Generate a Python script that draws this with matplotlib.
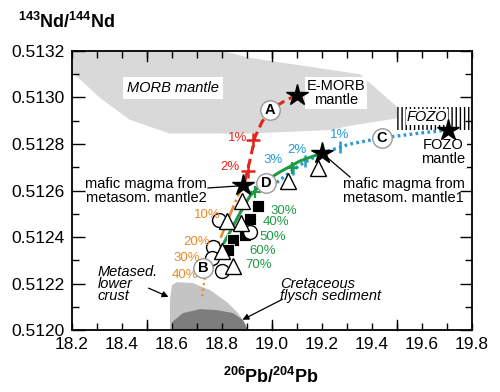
import matplotlib
matplotlib.use('Agg')
import matplotlib.pyplot as plt
from matplotlib.patches import Polygon, Rectangle

plt.rcParams['font.family'] = ['Liberation Sans', 'DejaVu Sans']
plt.rcParams['mathtext.fontset'] = 'custom'
plt.rcParams['mathtext.rm'] = 'Liberation Sans'
plt.rcParams['mathtext.bf'] = 'Liberation Sans:bold'
plt.rcParams['hatch.linewidth'] = 1.0
plt.rcParams['hatch.color'] = 'black'

# ---------------- data ----------------
morb_x = [18.2, 18.804, 18.912, 19.352, 19.50, 19.50, 19.32, 19.232, 18.912, 18.59, 18.43, 18.31, 18.2]
morb_y = [0.51320, 0.51320, 0.51317, 0.51310, 0.51296, 0.51291, 0.51288, 0.51286, 0.512845, 0.512845, 0.512905, 0.51300, 0.51311]

fozo_box_x = [19.50, 19.80]
fozo_box_y = [0.51286, 0.51296]

crust_x = [18.592, 18.592, 18.60, 18.62, 18.684, 18.752, 18.82, 18.864, 18.892, 18.904]
crust_y = [0.51200, 0.51213, 0.512194, 0.512206, 0.512202, 0.512172, 0.51212, 0.512073, 0.51203, 0.51200]

flysch_x = [18.60, 18.60, 18.644, 18.712, 18.78, 18.844, 18.884, 18.904]
flysch_y = [0.51200, 0.512034, 0.512073, 0.51209, 0.512086, 0.512073, 0.512043, 0.51200]

# mixing curves
red_x = [19.10, 19.044, 18.992, 18.96, 18.932, 18.912, 18.888]
red_y = [0.513011, 0.512981, 0.512946, 0.512895, 0.512830, 0.512731, 0.512624]
red_tick_x = [18.924, 18.904]
red_tick_y = [0.512817, 0.512684]

blue_x = [19.704, 19.592, 19.44, 19.312, 19.20, 19.112, 19.052, 19.00]
blue_y = [0.512860, 0.512847, 0.512826, 0.512800, 0.512761, 0.512710, 0.512662, 0.512619]
blue_tick_x = [19.272, 19.132, 19.084]
blue_tick_y = [0.512787, 0.512727, 0.512692]

green_x = [19.20, 19.112, 19.032, 18.96, 18.912, 18.872, 18.832, 18.792, 18.76]
green_y = [0.512761, 0.512727, 0.512680, 0.512632, 0.512576, 0.512503, 0.512422, 0.512344, 0.512267]
green_tick_x = [19.08, 18.93]
green_tick_y = [0.512697, 0.512595]

orange_x = [18.884, 18.856, 18.82, 18.78, 18.752, 18.736, 18.728]
orange_y = [0.512624, 0.512559, 0.512465, 0.512357, 0.512293, 0.512250, 0.512202]
orange_tail_x = [18.728, 18.72]
orange_tail_y = [0.512202, 0.512138]

# samples
tri_x = [18.88, 18.82, 18.876, 18.80, 18.844, 19.064, 19.184]
tri_y = [0.512555, 0.512469, 0.512460, 0.512340, 0.512275, 0.512641, 0.512697]
circ_x = [18.788, 18.912, 18.764, 18.76, 18.80]
circ_y = [0.512473, 0.512421, 0.512357, 0.512310, 0.512254]
sq_x = [18.944, 18.912, 18.892, 18.844, 18.824]
sq_y = [0.512533, 0.512477, 0.512409, 0.512387, 0.512344]

# end members (stars)
star_names = ['E-MORB', 'FOZO', 'mantle1', 'mantle2']
star_x = [19.10, 19.704, 19.20, 18.884]
star_y = [0.513011, 0.512860, 0.512761, 0.512624]

# circled letters
letters = ['A', 'B', 'C', 'D']
letter_x = [18.992, 18.724, 19.44, 18.976]
letter_y = [0.512946, 0.512267, 0.512826, 0.512632]

red_labels = ['1%', '2%']
blue_labels = ['1%', '2%', '3%']
green_labels = ['30%', '40%', '50%', '60%', '70%']
orange_labels = ['10%', '20%', '30%', '40%']

xticks = [18.2, 18.4, 18.6, 18.8, 19.0, 19.2, 19.4, 19.6, 19.8]
yticks = [0.5120, 0.5122, 0.5124, 0.5126, 0.5128, 0.5130, 0.5132]

RED = '#e2261e'
BLUE = '#249ad6'
GREEN = '#1f9a45'
ORANGE = '#e8892b'

# ---------------- figure ----------------
fig = plt.figure(figsize=(5.0, 3.92), dpi=100)
ax = fig.add_axes([0.144, 0.158, 0.80, 0.712])
ax.set_xlim(18.2, 19.8)
ax.set_ylim(0.5120, 0.5132)

# regions
ax.add_patch(Polygon(list(zip(morb_x, morb_y)), closed=True, fc='#d9d9d9', ec='none', zorder=1))
ax.add_patch(Rectangle((fozo_box_x[0], fozo_box_y[0]), fozo_box_x[1] - fozo_box_x[0],
                       fozo_box_y[1] - fozo_box_y[0], fc='white', ec='black', lw=0,
                       hatch='||||', zorder=1.2))
ax.add_patch(Polygon(list(zip(crust_x, crust_y)), closed=True, fc='#c4c4c4', ec='none', zorder=1))
ax.add_patch(Polygon(list(zip(flysch_x, flysch_y)), closed=True, fc='#7d7d7d', ec='none', zorder=1.1))

# mixing curves
ax.plot(red_x, red_y, color=RED, lw=2.2, ls=(0, (3, 1.6)), zorder=3)
ax.plot(red_tick_x, red_tick_y, ls='none', marker='+', ms=10, mew=1.8, color=RED, zorder=3)
ax.plot(blue_x, blue_y, color=BLUE, lw=2.4, ls=(0, (0.8, 1.0)), zorder=3)
ax.plot(blue_tick_x, blue_tick_y, ls='none', marker='|', ms=8, mew=1.8, color=BLUE, zorder=3)
ax.plot(green_x, green_y, color=GREEN, lw=2.2, zorder=3)
ax.plot(green_tick_x, green_tick_y, ls='none', marker='+', ms=8, mew=1.6, color=GREEN, zorder=3)
ax.plot(orange_x, orange_y, color=ORANGE, lw=1.8, ls=(0, (5, 1.5, 1, 1.5)), zorder=3)
ax.plot(orange_tail_x, orange_tail_y, color=ORANGE, lw=1.6, ls=(0, (1, 1.5)), zorder=3)

# samples
ax.plot(sq_x, sq_y, ls='none', marker='s', ms=8.5, mfc='black', mec='white', mew=0.6, zorder=4)
ax.plot(circ_x, circ_y, ls='none', marker='o', ms=10, mfc='white', mec='black', mew=1.0, zorder=5)
ax.plot(tri_x, tri_y, ls='none', marker='^', ms=11, mfc='white', mec='black', mew=1.0, zorder=5)

# stars
ax.plot(star_x, star_y, ls='none', marker='*', ms=16, mfc='black', mec='black', zorder=7)

# circled letters
ax.plot(letter_x, letter_y, ls='none', marker='o', ms=14, mfc='white', mec='#999999', mew=1.0, zorder=8)
for t, x, y in zip(letters, letter_x, letter_y):
    ax.text(x, y, t, ha='center', va='center', fontsize=10.5, fontweight='bold', zorder=9)

# percentage labels
PF = 9.5
for t, x, y in zip(red_labels, [18.864, 18.832], [0.512826, 0.512701]):
    ax.text(x, y, t, color=RED, fontsize=PF, ha='center', va='center', zorder=6)
for t, x, y in zip(blue_labels, [19.272, 19.10, 19.004], [0.512839, 0.512774, 0.512731]):
    ax.text(x, y, t, color=BLUE, fontsize=PF, ha='center', va='center', zorder=6)
for t, x, y in zip(green_labels, [19.048, 19.016, 19.004, 18.964, 18.948],
                   [0.512514, 0.512463, 0.512398, 0.512342, 0.512278]):
    ax.text(x, y, t, color=GREEN, fontsize=PF, ha='center', va='center', zorder=6)
for t, x, y in zip(orange_labels, [18.74, 18.70, 18.66, 18.652],
                   [0.512495, 0.512379, 0.51231, 0.512237]):
    ax.text(x, y, t, color=ORANGE, fontsize=PF, ha='center', va='center', zorder=6)

# region labels
box = dict(fc='white', ec='none', pad=1.5)
ax.text(18.604, 0.513041, 'MORB mantle', style='italic', fontsize=10.5, ha='center', va='center',
        bbox=dict(fc='white', ec='none', pad=3), zorder=6)
ax.text(19.256, 0.513019, 'E-MORB\nmantle', fontsize=10.5, ha='center', va='center',
        linespacing=0.95, bbox=box, zorder=6)
ax.text(19.62, 0.512916, 'FOZO', style='italic', fontsize=10.5, ha='center', va='center',
        bbox=dict(fc='white', ec='none', pad=0.5), zorder=6)
ax.text(19.684, 0.512766, 'FOZO\nmantle', fontsize=10.5, ha='center', va='center',
        linespacing=0.95, bbox=box, zorder=6)
ax.text(18.74, 0.512598, 'mafic magma from\nmetasom. mantle2', fontsize=10.5, ha='right',
        va='center', linespacing=0.95, zorder=6)
ax.plot([18.744, 18.872], [0.512611, 0.51262], color='black', lw=0.9, zorder=6)
ax.text(19.284, 0.512598, 'mafic magma from\nmetasom. mantle1', fontsize=10.5, ha='left',
        va='center', linespacing=0.95, zorder=6)
ax.plot([19.20, 19.312], [0.512761, 0.512658], color='black', lw=0.9, zorder=6)

ax.text(18.304, 0.512198, 'Metased.\nlower\ncrust', style='italic', fontsize=10.5, ha='left',
        va='center', linespacing=0.85, zorder=6)
ax.annotate('', xy=(18.596, 0.512138), xytext=(18.496, 0.512185),
            arrowprops=dict(arrowstyle='-|>', color='black', lw=0.9, mutation_scale=9), zorder=6)
ax.text(19.032, 0.512172, 'Cretaceous\nflysch sediment', style='italic', fontsize=10.5, ha='left',
        va='center', linespacing=0.85, zorder=6)
ax.annotate('', xy=(18.872, 0.512039), xytext=(19.052, 0.512138),
            arrowprops=dict(arrowstyle='-|>', color='black', lw=0.9, mutation_scale=9), zorder=6)

# axes styling
ax.set_xticks(xticks)
ax.set_xticklabels([f'{v:.1f}' for v in xticks])
ax.set_xticks([v + 0.1 for v in xticks[:-1]], minor=True)
ax.set_yticks(yticks)
ax.set_yticklabels([f'{v:.4f}' for v in yticks])
ax.set_yticks([v + 0.0001 for v in yticks[:-1]], minor=True)
ax.tick_params(axis='x', which='both', direction='in', top=True, bottom=True, length=5,
               width=1.0, labelsize=12.5, pad=5)
ax.tick_params(axis='y', which='major', direction='in', left=True, right=True, length=9,
               width=1.0, labelsize=12.5, pad=5)
ax.tick_params(axis='y', which='minor', direction='in', left=True, right=True, length=5, width=1.0)
# longer ticks at half-unit positions
xt = ax.get_xaxis_transform()
for v in [18.5, 19.0, 19.5]:
    ax.plot([v, v], [0, 0.035], color='black', lw=1.0, transform=xt, zorder=10, clip_on=False)
    ax.plot([v, v], [1, 0.965], color='black', lw=1.0, transform=xt, zorder=10, clip_on=False)
for s in ax.spines.values():
    s.set_linewidth(1.3)
    s.set_zorder(10)

fig.text(0.036, 0.944, r'$\mathbf{^{143}Nd/^{144}Nd}$', fontsize=13, ha='left', va='center')
fig.text(0.542, 0.038, r'$\mathbf{^{206}Pb/^{204}Pb}$', fontsize=13, ha='center', va='center')

fig.savefig('out.png', dpi=100)
